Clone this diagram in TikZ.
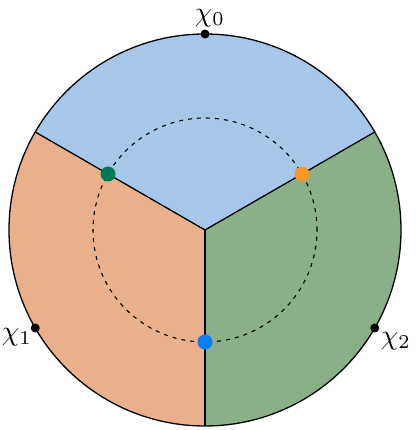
\documentclass[tikz,border=0pt]{standalone}
\usepackage{graphicx}
\usetikzlibrary{calc}
\newcommand{\biglab}[1]{\scalebox{2.8}{$#1$}}
\begin{document}
\begin{tikzpicture}[x=1pt,y=1pt,
  rim/.style={line width=1.3pt},
  divider/.style={line width=1.3pt},
  orbit/.style={line width=1.1pt, dash pattern=on 4pt off 5pt},
  pt/.style={circle, fill=black, inner sep=0pt, minimum size=9pt},
  bigdot/.style={circle, inner sep=0pt, minimum size=15pt},
  lab/.style={inner sep=0pt}]
\definecolor{sblue}{RGB}{167,199,234}
\definecolor{sorange}{RGB}{234,176,140}
\definecolor{sgreen}{RGB}{139,175,136}
\definecolor{dgreen}{RGB}{0,122,85}
\definecolor{dorange}{RGB}{247,154,37}
\definecolor{dblue}{RGB}{10,124,255}
\useasboundingbox (0,0) rectangle (416,430);
\coordinate (c) at (205,200);
% sectors
\fill[sblue] (c) -- ++(30:196) arc (30:150:196) -- cycle;
\fill[sorange] (c) -- ++(150:196) arc (150:270:196) -- cycle;
\fill[sgreen] (c) -- ++(270:196) arc (270:390:196) -- cycle;
% dividers
\draw[divider] (c) -- ++(30:196) coordinate (e0);
\draw[divider] (c) -- ++(150:196) coordinate (e1);
\draw[divider] (c) -- ++(270:196) coordinate (e2);
% rim
\draw[rim] (c) circle[radius=196];
% inner dashed circle
\draw[orbit] (c) circle[radius=112];
% dots
\node[bigdot, fill=dgreen] (g) at ($(c)+(150:112)$) {};
\node[bigdot, fill=dorange] (o) at ($(c)+(30:112)$) {};
\node[bigdot, fill=dblue] (b) at ($(c)+(270:112)$) {};
% boundary points
\node[pt] (x0) at ($(c)+(90:196)$) {};
\node[pt] (x1) at ($(c)+(210:196)$) {};
\node[pt] (x2) at ($(c)+(330:196)$) {};
\node[lab] (l0) at (210,412) {\biglab{\chi_0}};
\node[lab] (l1) at (17,93) {\biglab{\chi_1}};
\node[lab] (l2) at (396,89) {\biglab{\chi_2}};
\end{tikzpicture}
\end{document}
